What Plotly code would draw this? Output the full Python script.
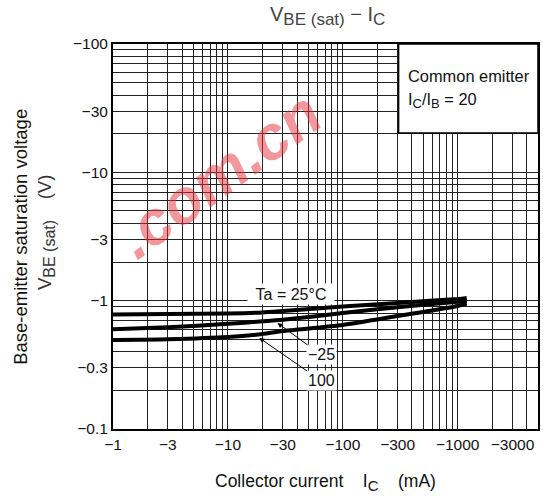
import numpy as np
import plotly.graph_objects as go

# ---- data ----
ic_ma = [-1, -3, -10, -20, -30, -100, -300, -1000, -1200]
vbe_25 = [-0.78, -0.787, -0.795, -0.81, -0.83, -0.90, -0.96, -1.03, -1.05]
vbe_m25 = [-0.598, -0.62, -0.66, -0.69, -0.71, -0.80, -0.89, -0.98, -1.0]
vbe_100 = [-0.494, -0.50, -0.52, -0.55, -0.58, -0.647, -0.76, -0.91, -0.95]

x_tick_labels = ["−1", "−3", "−10", "−30", "−100", "−300", "−1000", "−3000"]
x_tick_vals = [1, 3, 10, 30, 100, 300, 1000, 3000]
y_tick_labels = ["−0.1", "−0.3", "−1", "−3", "−10", "−30", "−100"]
y_tick_vals = [0.1, 0.3, 1, 3, 10, 30, 100]

FONT = "Liberation Sans, Arial, sans-serif"


def sub(t, px):
    return f"<sub><span style='font-size:{px}px'>{t}</span></sub>"


def minor_grid(lo_exp, hi_exp, major, max_val):
    out = []
    for e in range(lo_exp, hi_exp + 1):
        for d in range(1, 10):
            v = d * 10 ** e
            if v > max_val * 1.0001:
                continue
            if any(abs(v - m) < 1e-9 * max(1, m) for m in major):
                continue
            out.append(v)
    return out


x_minor = minor_grid(0, 3, x_tick_vals, 5000)
y_minor = minor_grid(-1, 2, y_tick_vals, 100)

fig = go.Figure()
for vals in (vbe_25, vbe_m25, vbe_100):
    fig.add_trace(go.Scatter(
        x=[-v for v in ic_ma], y=[-v for v in vals], mode="lines",
        line=dict(color="black", width=4, shape="spline", smoothing=0.6),
        showlegend=False, hoverinfo="skip"))

fig.update_layout(
    width=543, height=502,
    margin=dict(l=113, r=3, t=44, b=73),
    paper_bgcolor="white", plot_bgcolor="white",
    font=dict(family=FONT, size=15, color="#111"),
)
axis_common = dict(
    type="log", tickmode="array",
    showgrid=True, gridcolor="#222", gridwidth=1,
    showline=True, linecolor="black", linewidth=2, mirror=True,
    ticks="", zeroline=False, tickfont=dict(size=15.5, color="#111"),
)
fig.update_xaxes(range=[0, np.log10(5000)], tickvals=x_tick_vals, ticktext=x_tick_labels,
                 minor=dict(tickmode="array", tickvals=x_minor, showgrid=True,
                            gridcolor="#222", gridwidth=1, ticks=""),
                 **axis_common)
fig.update_yaxes(range=[-1, 2], tickvals=y_tick_vals, ticktext=y_tick_labels,
                 minor=dict(tickmode="array", tickvals=y_minor, showgrid=True,
                            gridcolor="#222", gridwidth=1, ticks=""),
                 **axis_common)

# watermark
fig.add_annotation(xref="paper", yref="paper", x=0.25, y=0.66, xanchor="center", yanchor="middle",
                   text="<b><i>.com.cn</i></b>", showarrow=False,
                   textangle=-36, font=dict(size=62, color="rgba(230,50,60,0.5)", family=FONT))

# condition box
fig.add_shape(type="rect", xref="paper", yref="paper", x0=0.672, x1=1, y0=0.769, y1=1,
              fillcolor="white", line=dict(color="black", width=1.5), layer="above")
fig.add_annotation(xref="paper", yref="paper", x=0.689, y=0.917, xanchor="left", yanchor="middle",
                   text="Common emitter", showarrow=False, font=dict(size=16.4, color="#111"))
fig.add_annotation(xref="paper", yref="paper", x=0.689, y=0.852, xanchor="left", yanchor="middle",
                   text="I" + sub("C", 13) + "/I" + sub("B", 13) + " = 20", showarrow=False,
                   font=dict(size=16.4, color="#111"))

# curve labels
fig.add_annotation(x=np.log10(35.6), y=np.log10(1.13), text="Ta = 25°C", showarrow=False,
                   xanchor="center", yanchor="middle",
                   bgcolor="white", width=84, height=18, font=dict(size=16, color="#111"))
fig.add_annotation(x=np.log10(27), y=np.log10(0.67), ax=44, ay=32, text="−25",
                   showarrow=True, arrowhead=2, arrowsize=1, arrowwidth=1, arrowcolor="black",
                   bgcolor="white", font=dict(size=16, color="#111"))
fig.add_annotation(x=np.log10(18.8), y=np.log10(0.512), ax=62, ay=43, text="100",
                   showarrow=True, arrowhead=2, arrowsize=1, arrowwidth=1, arrowcolor="black",
                   bgcolor="white", font=dict(size=16, color="#111"))

# titles
fig.add_annotation(xref="paper", yref="paper", x=0.504, y=1.073, xanchor="center", yanchor="middle",
                   text="V" + sub("BE (sat)", 17) + " − I" + sub("C", 17), showarrow=False,
                   font=dict(size=20, color="#444"))
fig.add_annotation(xref="paper", yref="paper", x=0.50, y=-0.140, xanchor="center", yanchor="middle",
                   text="Collector current\u00a0\u00a0\u00a0\u00a0I" + sub("C", 15)
                        + "\u00a0\u00a0\u00a0\u00a0(mA)",
                   showarrow=False, font=dict(size=17.5, color="#111"))
fig.add_annotation(xref="paper", yref="paper", x=-0.218, y=0.5, xanchor="center", yanchor="middle",
                   text="Base-emitter saturation voltage", textangle=-90,
                   showarrow=False, font=dict(size=18.5, color="#111"))
fig.add_annotation(xref="paper", yref="paper", x=-0.159, y=0.51, xanchor="center", yanchor="middle",
                   text="V" + sub("BE (sat)", 16) + "\u00a0\u00a0\u00a0\u00a0(V)", textangle=-90,
                   showarrow=False, font=dict(size=18.5, color="#333"))

fig.write_html("out.html", post_script="document.body.style.margin='0';",
               config={"displayModeBar": False})
